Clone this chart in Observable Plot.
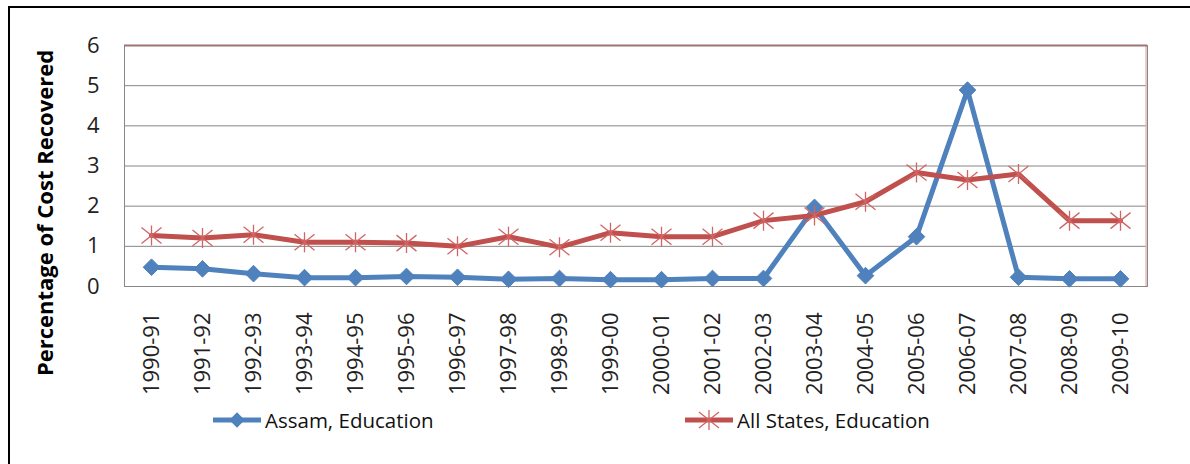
<!DOCTYPE html>
<html>
<head>
<meta charset="utf-8">
<script src="https://cdn.jsdelivr.net/npm/d3@7"></script>
<script src="https://cdn.jsdelivr.net/npm/@observablehq/plot@0.6"></script>
<style>
  html, body { margin: 0; padding: 0; background: #fff; }
  #wrap { position: relative; width: 1190px; height: 464px; overflow: hidden; font-family: "Open Sans", sans-serif; }
  #frame { position: absolute; left: 8px; top: 6px; width: 1300px; height: 600px; border-top: 2px solid #000; border-left: 2px solid #000; }
  #chart { position: absolute; left: 0; top: 0; }
  #ytitle { position: absolute; left: 44px; top: 213px; transform: translate(-50%, -50%) rotate(-90deg); white-space: nowrap; font-weight: bold; font-size: 22px; color: #000; }
  .leg { position: absolute; top: 405px; display: flex; align-items: center; font-size: 20.5px; color: #111; white-space: nowrap; }
  .leg svg { margin-right: 3px; }
</style>
</head>
<body>
<div id="wrap">
  <div id="frame"></div>
  <div id="chart"></div>
  <div id="ytitle">Percentage of Cost Recovered</div>
  <div class="leg" id="leg1"></div>
  <div class="leg" id="leg2"></div>
</div>
<script>
const years = ["1990-91","1991-92","1992-93","1993-94","1994-95","1995-96","1996-97","1997-98","1998-99","1999-00","2000-01","2001-02","2002-03","2003-04","2004-05","2005-06","2006-07","2007-08","2008-09","2009-10"];
const assam = [0.48,0.44,0.32,0.22,0.22,0.25,0.23,0.18,0.20,0.17,0.17,0.20,0.20,1.97,0.27,1.24,4.89,0.23,0.19,0.19];
const allStates = [1.27,1.21,1.29,1.10,1.10,1.08,1.00,1.24,0.98,1.34,1.24,1.24,1.64,1.77,2.11,2.84,2.65,2.80,1.64,1.64];
const yTicks = [0,1,2,3,4,5,6];
const seriesNames = ["Assam, Education","All States, Education"];

const blue = "#4F81BD", red = "#C0504D", starColor = "#D26464";

const assamData = years.map((y, i) => ({year: y, value: assam[i]}));
const allData = years.map((y, i) => ({year: y, value: allStates[i]}));

// Excel-style star marker: vertical bar plus an X
const star = {
  draw(ctx, size) {
    const h = Math.sqrt(size / Math.PI);
    ctx.moveTo(0, -h); ctx.lineTo(0, h);
    ctx.moveTo(-h, -0.8 * h); ctx.lineTo(h, 0.8 * h);
    ctx.moveTo(-h, 0.8 * h); ctx.lineTo(h, -0.8 * h);
  }
};

const W = 1190, H = 410, ML = 124, MR = 43, MT = 45, MB = 124;
const step = (W - ML - MR) / years.length;

const plot = Plot.plot({
  width: W, height: H,
  marginLeft: ML, marginRight: MR, marginTop: MT, marginBottom: MB,
  style: {fontFamily: "'Open Sans', sans-serif", fontSize: "21px", color: "#222", background: "transparent"},
  x: {type: "point", domain: years, padding: 0.5, label: null},
  y: {domain: [0, 6], label: null},
  marks: [
    Plot.gridY(yTicks.slice(1, -1), {stroke: "#868686", strokeOpacity: 1, strokeWidth: 1}),
    Plot.frame({stroke: "#888", strokeWidth: 1}),
    Plot.ruleX([years[years.length - 1]], {dx: step / 2, stroke: "#E6B8B7", strokeWidth: 1.5}),
    Plot.ruleY([6], {stroke: "#9E7474", strokeWidth: 2}),
    Plot.axisY(yTicks, {tickSize: 0, tickPadding: 25, fontSize: 22, fill: "#222"}),
    Plot.axisX(years, {tickSize: 0, tickPadding: 26, tickRotate: -90, fontSize: 22, fill: "#222"}),
    Plot.line(assamData, {x: "year", y: "value", stroke: blue, strokeWidth: 5}),
    Plot.dot(assamData, {x: "year", y: "value", symbol: "diamond2", r: 7.5, fill: blue, stroke: blue, strokeWidth: 1}),
    Plot.line(allData, {x: "year", y: "value", stroke: red, strokeWidth: 5}),
    Plot.dot(allData, {x: "year", y: "value", symbol: star, r: 10, fill: "none", stroke: starColor, strokeWidth: 1.3})
  ]
});
document.getElementById("chart").appendChild(plot);

// Legend
function swatch(color, kind) {
  const svg = d3.create("svg").attr("width", 50).attr("height", 30);
  svg.append("line").attr("x1", 1).attr("x2", 49).attr("y1", 15).attr("y2", 15)
    .attr("stroke", color).attr("stroke-width", 5);
  if (kind === "diamond") {
    svg.append("path").attr("d", d3.symbol(d3.symbolDiamond2, 154)()).attr("transform", "translate(25,15)").attr("fill", color);
  } else {
    svg.append("path").attr("d", d3.symbol(star, 314)()).attr("transform", "translate(25,15)")
      .attr("fill", "none").attr("stroke", starColor).attr("stroke-width", 1.3);
  }
  return svg.node();
}
const l1 = document.getElementById("leg1");
l1.style.left = "212px";
l1.appendChild(swatch(blue, "diamond"));
l1.appendChild(document.createTextNode(seriesNames[0]));
const l2 = document.getElementById("leg2");
l2.style.left = "684px";
l2.appendChild(swatch(red, "star"));
l2.appendChild(document.createTextNode(seriesNames[1]));
</script>
</body>
</html>
